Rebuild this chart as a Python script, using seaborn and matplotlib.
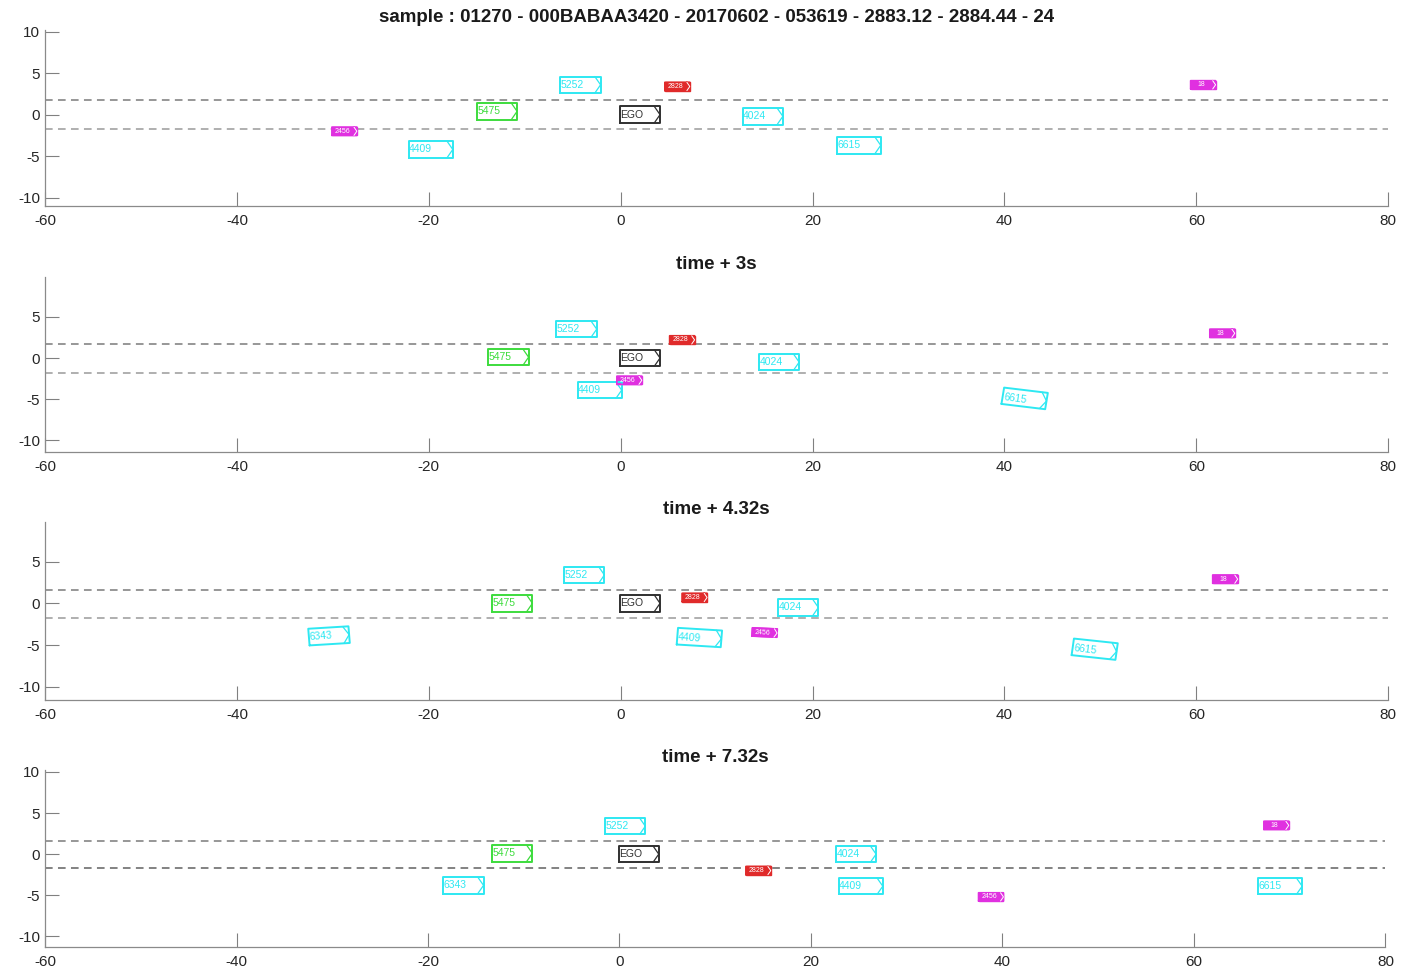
import numpy as np
import matplotlib
matplotlib.use("Agg")
import matplotlib.pyplot as plt
import seaborn as sns

sns.set_style("ticks")
plt.rcParams['font.family'] = ['Liberation Sans', 'DejaVu Sans']
plt.rcParams['axes.unicode_minus'] = False

nan = np.nan

# objects seen in the scene
obj_ids = ["EGO", "5252", "5475", "4024", "4409", "6615", "6343", "2828", "2456", "18"]
obj_colors = ["#303030", "#2ee8f2", "#3ddc3d", "#2ee8f2", "#2ee8f2", "#2ee8f2", "#2ee8f2",
              "#e02a2a", "#e030e0", "#e030e0"]
obj_small = [False, False, False, False, False, False, False, True, True, True]
obj_len = [4.2, 4.2, 4.2, 4.2, 4.6, 4.6, 4.2, 2.6, 2.6, 2.6]
obj_wid = [2.0, 2.0, 2.0, 2.0, 2.0, 2.0, 2.0, 1.0, 1.0, 1.0]

frame_titles = ["sample : 01270 - 000BABAA3420 - 20170602 - 053619 - 2883.12 - 2884.44 - 24",
                "time + 3s", "time + 4.32s", "time + 7.32s"]

# centre positions (m) and heading (deg) per frame, NaN = not seen
x_t0 = [2.0, -4.2, -12.9, 14.8, -19.8, 24.8, nan, 5.9, -28.8, 60.7]
y_t0 = [0.0, 3.6, 0.4, -0.2, -4.2, -3.7, nan, 3.4, -2.0, 3.6]
h_t0 = [0, 0, 0, 0, 0, 0, 0, 0, 0, 0]

x_t1 = [2.0, -4.6, -11.7, 16.5, -2.2, 42.1, nan, 6.4, 0.9, 62.7]
y_t1 = [0.0, 3.5, 0.1, -0.5, -3.9, -4.9, nan, 2.2, -2.7, 3.0]
h_t1 = [0, 0, 0, 0, 0, -8, 0, 0, 0, 0]

x_t2 = [2.0, -3.8, -11.3, 18.5, 8.2, 49.4, -30.4, 7.7, 15.0, 63.0]
y_t2 = [0.0, 3.4, 0.0, -0.5, -4.1, -5.5, -3.9, 0.7, -3.5, 2.9]
h_t2 = [0, 0, 0, 0, -4, -7, 4, 0, -3, 0]

x_t3 = [2.0, 0.6, -11.2, 24.7, 25.2, 69.0, -16.3, 14.5, 38.8, 68.6]
y_t3 = [0.0, 3.4, 0.1, 0.0, -3.9, -3.9, -3.8, -2.0, -5.2, 3.5]
h_t3 = [0, 0, 0, 0, 0, 0, 0, 0, 0, 0]

lane_upper = [1.8, 1.7, 1.6, 1.6]
lane_lower = [-1.7, -1.8, -1.8, -1.7]
ylims = [(-11.0, 10.2), (-11.4, 9.8), (-11.6, 9.7), (-11.3, 10.2)]

frames = [(x_t0, y_t0, h_t0), (x_t1, y_t1, h_t1), (x_t2, y_t2, h_t2), (x_t3, y_t3, h_t3)]


def box_outline(cx, cy, L, W, ang):
    c = 0.3 * W
    pts = np.array([[-L / 2, -W / 2], [L / 2, -W / 2], [L / 2, W / 2], [-L / 2, W / 2],
                    [-L / 2, -W / 2], [nan, nan],
                    [L / 2 - c, W / 2], [L / 2, 0], [L / 2 - c, -W / 2]])
    t = np.deg2rad(ang)
    rot = np.array([[np.cos(t), -np.sin(t)], [np.sin(t), np.cos(t)]])
    pts = pts @ rot.T
    return pts[:, 0] + cx, pts[:, 1] + cy


fig = plt.figure(figsize=(14.11, 9.71), dpi=100)
ax_rects = [[0.0319, 0.788, 0.952, 0.181],
            [0.0319, 0.5345, 0.952, 0.180],
            [0.0319, 0.279, 0.952, 0.183],
            [0.0319, 0.0247, 0.950, 0.182]]

for k, (xs, ys, hs) in enumerate(frames):
    ax = fig.add_axes(ax_rects[k])
    ax.axhline(lane_upper[k], color="#7a7a7a", lw=1.1, ls=(0, (5, 3.5)), zorder=1)
    ax.axhline(lane_lower[k], color="#9a9a9a" if k < 3 else "#606060", lw=1.1,
               ls=(0, (5, 3.5)), zorder=1)
    for i, oid in enumerate(obj_ids):
        if np.isnan(xs[i]):
            continue
        bx, by = box_outline(xs[i], ys[i], obj_len[i], obj_wid[i], hs[i])
        col = obj_colors[i]
        if obj_small[i]:
            ax.fill(bx[:4], by[:4], color=col, zorder=2)
            ax.plot(bx, by, color=col, lw=1.2, zorder=3)
            ax.plot(bx[6:], by[6:], color="white", lw=0.7, zorder=4)
            ax.text(xs[i] - 0.2, ys[i], oid, fontsize=5, color="white", ha="center",
                    va="center", rotation=hs[i], zorder=5)
        else:
            ax.plot(bx[:5], by[:5], color=col, lw=1.4, zorder=3)
            ax.plot(bx[6:], by[6:], color=col, lw=0.9, zorder=3)
            ax.text(xs[i] - obj_len[i] / 2 + 0.05, ys[i], oid, fontsize=7.5, color=col,
                    ha="left", va="center", rotation=hs[i], zorder=4)
    ax.set_xticks([-60, -40, -20, 0, 20, 40, 60, 80])
    ax.set_yticks([-10, -5, 0, 5, 10])
    ax.set_xlim(-60, 80)
    ax.set_ylim(*ylims[k])
    ax.tick_params(direction="in", length=10, width=0.8, color="#808080",
                   labelsize=11, labelcolor="#262626")
    ax.tick_params(axis="x", pad=6)
    sns.despine(ax=ax)
    for s in ["left", "bottom"]:
        ax.spines[s].set_color("#8a8a8a")
        ax.spines[s].set_linewidth(0.9)
    ax.set_title(frame_titles[k], fontsize=13.5, fontweight="bold", color="#1a1a1a", pad=6)

fig.savefig("out.png", dpi=100)
